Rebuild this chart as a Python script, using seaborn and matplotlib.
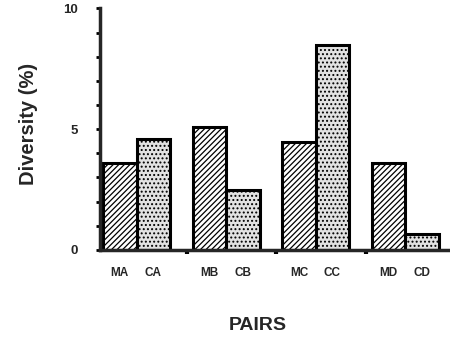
import matplotlib
matplotlib.use("Agg")
import matplotlib.pyplot as plt
import seaborn as sns
import pandas as pd

# Diversity (%) for each pair: M member and C member
pairs = ["A", "B", "C", "D"]
m_values = [3.6, 5.1, 4.45, 3.6]
c_values = [4.6, 2.5, 8.5, 0.65]
tick_labels = ["MA", "CA", "MB", "CB", "MC", "CC", "MD", "CD"]

df = pd.DataFrame({
    "pair": pairs * 2,
    "kind": ["M"] * len(pairs) + ["C"] * len(pairs),
    "diversity": m_values + c_values,
})

sns.set_style("ticks")
plt.rcParams["font.family"] = ["Liberation Sans", "DejaVu Sans"]
plt.rcParams["hatch.linewidth"] = 0.9

fig = plt.figure(figsize=(4.5, 3.4), dpi=100)
ax = fig.add_axes([0.222, 0.265, 0.778, 0.71])

bar_width = 0.75
sns.barplot(data=df, x="pair", y="diversity", hue="kind", order=pairs,
            hue_order=["M", "C"], palette={"M": "white", "C": "#e2e2e2"},
            width=bar_width, dodge=True, edgecolor="black", linewidth=2.2,
            legend=False, ax=ax)

for bar in ax.containers[0]:
    bar.set_hatch("//////")
for bar in ax.containers[1]:
    bar.set_hatch("....")

ax.set_ylim(0, 10)
ax.set_xlim(-0.41, 3.5)

# tick labels under each bar
centers = []
for g in range(len(pairs)):
    centers += [g - bar_width / 4, g + bar_width / 4]
ax.set_xticks(centers)
ax.set_xticklabels(tick_labels, fontsize=8.5, fontweight="bold")
ax.tick_params(axis="x", length=0, pad=12)

ax.set_yticks([0, 5, 10])
ax.set_yticklabels(["0", "5", "10"], fontsize=9.5, fontweight="bold")
ax.set_yticks(range(0, 11), minor=True)
ax.tick_params(axis="y", which="both", direction="out", width=2, length=3,
               color="black", pad=13)

# small separators between pair groups on the baseline
for xs in [0.56, 1.56, 2.56]:
    ax.plot([xs, xs], [-0.15, 0.05], color="black", lw=3,
            clip_on=False, solid_capstyle="butt")

for side in ["top", "right"]:
    ax.spines[side].set_visible(False)
ax.spines["left"].set_linewidth(2.5)
ax.spines["bottom"].set_linewidth(2.5)

ax.set_xlabel("PAIRS", fontsize=14, fontweight="bold")
ax.set_ylabel("Diversity (%)", fontsize=14.5, fontweight="bold")
ax.xaxis.set_label_coords(0.451, -0.278)
ax.yaxis.set_label_coords(-0.177, 0.52)

fig.savefig("out.png", dpi=100)
